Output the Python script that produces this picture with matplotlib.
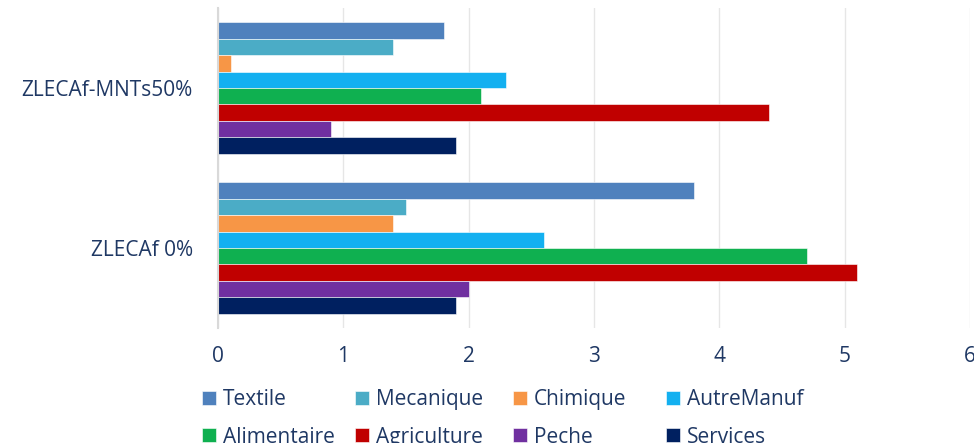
import matplotlib.pyplot as plt
import numpy as np

plt.rcParams['font.family'] = ['Open Sans', 'DejaVu Sans']

scenarios = ["ZLECAf 0%", "ZLECAf-MNTs50%"]
sectors = ["Textile", "Mecanique", "Chimique", "AutreManuf",
           "Alimentaire", "Agriculture", "Peche", "Services"]
colors = ["#4F81BD", "#4BACC6", "#F79646", "#13B0F0",
          "#0FB050", "#C00000", "#7030A0", "#002060"]

# values per sector: [ZLECAf 0%, ZLECAf-MNTs50%]
textile = [3.8, 1.8]
mecanique = [1.5, 1.4]
chimique = [1.4, 0.1]
autremanuf = [2.6, 2.3]
alimentaire = [4.7, 2.1]
agriculture = [5.1, 4.4]
peche = [2.0, 0.9]
services = [1.9, 1.9]
values = [textile, mecanique, chimique, autremanuf,
          alimentaire, agriculture, peche, services]

text_col = "#1F3864"
fsize = 15
weight = "normal"

fig = plt.figure(figsize=(9.74, 4.43), dpi=100)
ax = fig.add_axes([218 / 974, 1 - 328 / 443, (970 - 218) / 974, 320 / 443])

n = len(sectors)
h = 0.82 / n
y = np.arange(len(scenarios))
handles = []
for i, (name, vals, c) in enumerate(zip(sectors, values, colors)):
    off = 0.41 - h * (i + 0.5)
    b = ax.barh(y + off, vals, height=h, color=c, label=name,
                edgecolor="white", linewidth=0.4, zorder=3)
    handles.append(b)

ax.set_xlim(0, 6)
ax.set_ylim(-0.5, 1.5)
ax.set_yticks(y)
ax.set_yticklabels(scenarios)
ax.set_xticks(range(7))
ax.tick_params(length=0, labelsize=fsize, colors=text_col)
ax.tick_params(axis="y", pad=18)
ax.tick_params(axis="x", pad=13)
for lab in ax.get_xticklabels() + ax.get_yticklabels():
    lab.set_fontweight(weight)
ax.grid(axis="x", color="#E6E6E6", linewidth=1, zorder=0)
for s in ["top", "right", "bottom"]:
    ax.spines[s].set_visible(False)
ax.spines["left"].set_color("#D9D9D9")
ax.spines["left"].set_linewidth(1.5)
ax.spines["left"].set_zorder(4)

# legend: 4 fixed columns, two rows
col_x = [202, 355, 513, 666]
for c, x in enumerate(col_x):
    idx = [c, c + 4]
    fig.legend([handles[k] for k in idx], [sectors[k] for k in idx],
               loc="upper left", bbox_to_anchor=(x / 974, 1 - 389 / 443),
               frameon=False, prop={"size": fsize, "weight": weight},
               labelcolor=text_col, handlelength=0.65, handleheight=0.65,
               handletextpad=0.35, labelspacing=0.8, borderpad=0,
               borderaxespad=0)

fig.savefig("out.png", dpi=100)
